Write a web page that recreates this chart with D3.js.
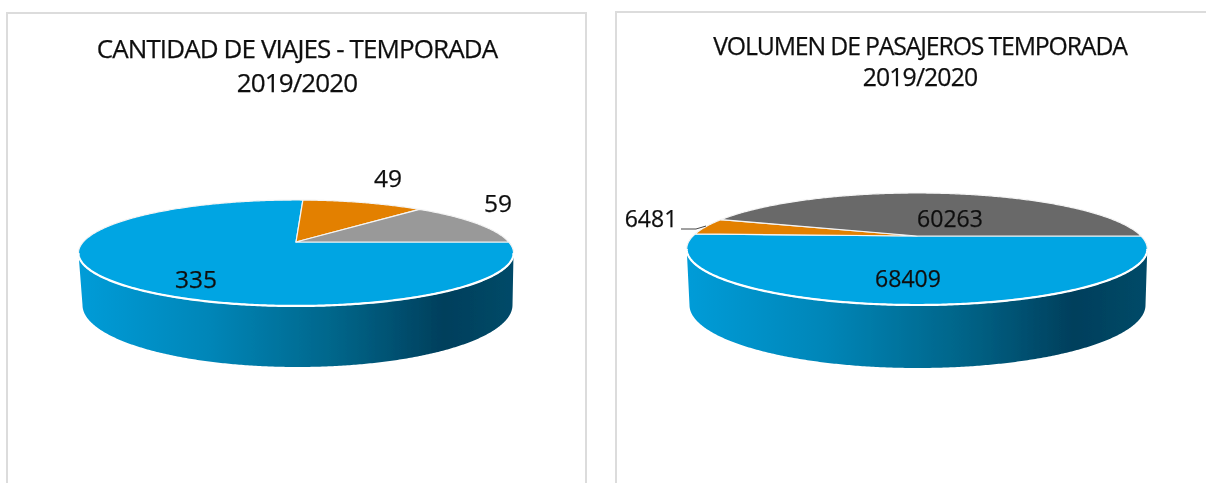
<!DOCTYPE html>
<html>
<head>
<meta charset="utf-8">
<script src="https://cdn.jsdelivr.net/npm/d3@7"></script>
<style>
  html, body { margin: 0; background: #fff; }
  svg { display: block; }
  text { font-family: "Open Sans", sans-serif; fill: #111; stroke: #111; stroke-width: 0.25px; }
</style>
</head>
<body>
<div id="plot"></div>
<script>
const categories = ['A', 'B', 'C'];
const viajes = [335, 49, 59];
const pasajeros = [68409, 6481, 60263];
const titulo_viajes = ['CANTIDAD DE VIAJES - TEMPORADA', '2019/2020'];
const titulo_pasajeros = ['VOLUMEN DE PASAJEROS TEMPORADA', '2019/2020'];
const colors_viajes = ['#00a5e3', '#e38000', '#999999'];
const colors_pasajeros = ['#00a5e3', '#e38000', '#696969'];

const width = 1206, height = 483;

const svg = d3.select('#plot').append('svg')
  .attr('width', width).attr('height', height);

const defs = svg.append('defs');

// side wall gradient ================================================
const grad = defs.append('linearGradient')
  .attr('id', 'wall').attr('x1', 0).attr('x2', 1).attr('y1', 0).attr('y2', 0);
[ [0, '#009cd8'], [.3, '#0086b8'], [.6, '#006488'], [.84, '#003f5c'], [1, '#004a68'] ]
  .forEach(([o, c]) => grad.append('stop').attr('offset', o).attr('stop-color', c));

// the reference is a soft, upscaled picture
defs.append('filter').attr('id', 'soft')
  .append('feGaussianBlur').attr('stdDeviation', 0.45);

// frames ============================================================
const frame = d3.path();
frame.moveTo(7, height); frame.lineTo(7, 13); frame.lineTo(586, 13); frame.lineTo(586, height);
frame.moveTo(616, height); frame.lineTo(616, 12); frame.lineTo(width, 12);
svg.append('path').attr('d', frame.toString())
  .attr('fill', 'none').attr('stroke', '#dcdcdc').attr('stroke-width', 2);

function draw_pie(o) {
  const g = svg.append('g').attr('filter', 'url(#soft)');

  // perspective view of the unit disk, far side is squeezed
  const { cx, cy, a, b, k } = o;
  const project = (r, t) => {
    const u = r*Math.sin(t), v = r*Math.cos(t), w = 1 + k*v;
    return [ cx + b*u/w, cy - a*v/w ];
  };
  const line = d3.line();
  const steps = (t0, t1) => {
    const n = Math.ceil(Math.abs(t1-t0)/0.01);
    return d3.range(n+1).map(i => t0 + (t1-t0)*i/n);
  };

  // wall: front half of the rim, back along the bottom rim
  const t_side = Math.acos(-k);
  const top_rim = steps(t_side, 2*Math.PI - t_side).map(t => project(1, t));
  const bottom_rim = steps(Math.PI*1.5, Math.PI*0.5).map(t => [
    o.bx + o.brx*Math.sin(t), o.by - o.bry*Math.cos(t)
  ]);
  g.append('path')
    .attr('d', line(top_rim.concat(bottom_rim)) + 'Z')
    .attr('fill', 'url(#wall)');

  // top face
  const arcs = d3.pie().sort(null)
    .startAngle(Math.PI/2).endAngle(Math.PI*2.5)(o.values);
  g.selectAll('path.slice').data(arcs).join('path')
    .attr('class', 'slice')
    .attr('d', d => line([[cx, cy]].concat(
      steps(d.startAngle, d.endAngle).map(t => project(1, t)))) + 'Z')
    .attr('fill', (d, i) => o.colors[i])
    .attr('stroke', '#f4f4f4').attr('stroke-width', 1.2)
    .attr('stroke-linejoin', 'round');
  g.append('path')
    .attr('d', line(top_rim))
    .attr('fill', 'none').attr('stroke', '#fff').attr('stroke-width', 2.2);

  if (o.leader) {
    g.append('path').attr('d', line(o.leader))
      .attr('fill', 'none').attr('stroke', '#444').attr('stroke-width', 1);
  }

  // data labels
  g.selectAll('text.label').data(o.values).join('text')
    .attr('class', 'label')
    .attr('x', (d, i) => o.label_at[i][0])
    .attr('y', (d, i) => o.label_at[i][1])
    .attr('text-anchor', 'middle')
    .attr('dominant-baseline', 'central')
    .style('font-size', o.label_size)
    .text(d => d);

  // title
  g.selectAll('text.title').data(o.title).join('text')
    .attr('class', 'title')
    .attr('x', o.title_x)
    .attr('y', (d, i) => o.title_y + i*o.title_dy)
    .attr('text-anchor', 'middle')
    .style('font-size', o.title_size)
    .style('letter-spacing', (d, i) => i ? '-0.9px' : o.title_ls)
    .text(d => d);
}

draw_pie({
  values: viajes, colors: colors_viajes, title: titulo_viajes,
  title_x: 297, title_y: 58, title_dy: 34, title_size: '26px', title_ls: '-0.9px',
  cx: 296, cy: 242, a: 50.7, b: 212.8, k: 0.2075,
  bx: 297.5, by: 305, brx: 215, bry: 62,
  label_size: '24.5px',
  label_at: [[196, 278], [388, 177], [498, 202]]
});

draw_pie({
  values: pasajeros, colors: colors_pasajeros, title: titulo_pasajeros,
  title_x: 920, title_y: 55, title_dy: 31, title_size: '24.8px', title_ls: '-1.15px',
  cx: 917, cy: 236, a: 53, b: 224, k: 0.232,
  bx: 917.5, by: 305, brx: 228, bry: 63,
  label_size: '23px',
  label_at: [[908, 278], [651, 218], [950, 218]],
  leader: [[681, 229], [696, 229], [706, 226]]
});
</script>
</body>
</html>
